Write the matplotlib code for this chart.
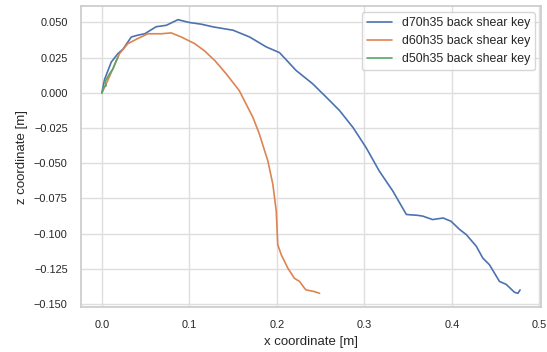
import matplotlib
matplotlib.use("Agg")
import matplotlib.pyplot as plt
import seaborn as sns

# d70h35 back shear key
x_d70 = [0.0, 0.003, 0.0107, 0.0183, 0.024, 0.0336, 0.041, 0.049, 0.062, 0.0736,
         0.0869, 0.100, 0.1136, 0.127, 0.150, 0.1688, 0.188, 0.203, 0.222, 0.241,
         0.2488, 0.2565, 0.2717, 0.287, 0.302, 0.317, 0.3326, 0.348, 0.361, 0.367,
         0.378, 0.390, 0.399, 0.409, 0.4165, 0.428, 0.4354, 0.443, 0.4545, 0.462,
         0.4717, 0.4755, 0.478]
z_d70 = [0.0, 0.0095, 0.0219, 0.0279, 0.031, 0.0397, 0.041, 0.042, 0.047, 0.048,
         0.052, 0.050, 0.0488, 0.0469, 0.0445, 0.0397, 0.0326, 0.0286, 0.0159, 0.0064,
         0.0016, -0.0031, -0.0126, -0.0246, -0.0389, -0.0555, -0.0698, -0.0864, -0.0870, -0.0876,
         -0.0900, -0.0889, -0.0912, -0.0971, -0.1007, -0.1090, -0.1174, -0.1221, -0.1340, -0.1360,
         -0.1417, -0.1424, -0.1400]

# d60h35 back shear key
x_d60 = [0.0, 0.006, 0.0126, 0.0202, 0.0297, 0.041, 0.0526, 0.0679, 0.0793, 0.0907,
         0.106, 0.117, 0.129, 0.142, 0.157, 0.1726, 0.180, 0.1897, 0.1954, 0.1993,
         0.201, 0.205, 0.2126, 0.220, 0.226, 0.2317, 0.2336, 0.243, 0.2488]
z_d60 = [0.0, 0.008, 0.0171, 0.0279, 0.035, 0.0386, 0.042, 0.042, 0.0426, 0.0397,
         0.035, 0.030, 0.023, 0.0136, 0.0016, -0.0174, -0.0293, -0.0484, -0.0650, -0.0840,
         -0.1079, -0.1150, -0.1246, -0.1317, -0.1340, -0.1389, -0.1400, -0.1412, -0.1424]

# d50h35 back shear key
x_d50 = [0.0, 0.002, 0.005, 0.0033, 0.0088, 0.0126, 0.0164, 0.0183]
z_d50 = [0.0, 0.004, 0.0052, 0.0076, 0.0136, 0.0171, 0.023, 0.0254]

labels = ["d70h35 back shear key", "d60h35 back shear key", "d50h35 back shear key"]

sns.set_theme(style="whitegrid", rc={"grid.color": "0.87", "axes.edgecolor": "0.8"})
plt.rcParams['font.family'] = ['Liberation Sans', 'DejaVu Sans']

fig, ax = plt.subplots(figsize=(5.47, 3.52), dpi=100)
fig.subplots_adjust(left=81 / 547, right=541 / 547, top=1 - 6 / 352, bottom=1 - 307 / 352)

ax.plot(x_d70, z_d70, lw=1.2, label=labels[0])
ax.plot(x_d60, z_d60, lw=1.2, label=labels[1])
ax.plot(x_d50, z_d50, lw=1.2, label=labels[2])

ax.set_xlabel("x coordinate [m]", fontsize=9.5)
ax.set_ylabel("z coordinate [m]", fontsize=9.5)
ax.tick_params(labelsize=7.9)
ax.legend(fontsize=8.9, loc="upper right")

fig.savefig("out.png", dpi=100)
